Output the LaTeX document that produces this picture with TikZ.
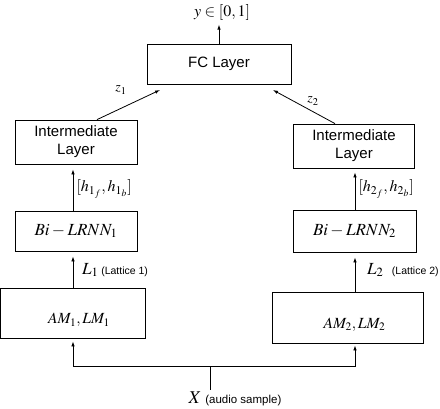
\documentclass[tikz,border=0pt]{standalone}
\usepackage{mathptmx}
\usepackage{fontspec}
\setsansfont{Liberation Sans}
\usetikzlibrary{arrows.meta}
\tikzset{
  box/.style={draw, line width=0.8pt, rectangle, inner sep=0pt, align=center},
  lbl/.style={font=\sffamily\fontsize{15}{18}\selectfont},
  mth/.style={font=\fontsize{17}{20}\selectfont},
  amt/.style={font=\fontsize{15.5}{18}\selectfont},
  arr/.style={line width=0.8pt, -{Latex[length=5pt,width=3.5pt]}},
  ln/.style={line width=0.8pt},
}
\newcommand{\smalllbl}[1]{{\sffamily\fontsize{10.5}{12}\selectfont #1}}
\begin{document}
\begin{tikzpicture}[x=1pt,y=-1pt]
\useasboundingbox (0,0) rectangle (440,408);
% boxes
\node[box,lbl,minimum width=144,minimum height=40] (fc) at (219,64) {FC Layer};
\node[box,lbl,minimum width=122,minimum height=44] (int1) at (76,142) {Intermediate\\Layer};
\node[box,lbl,minimum width=121,minimum height=44] (int2) at (354,146) {Intermediate\\Layer};
\node[box,mth,minimum width=122,minimum height=40] (bi1) at (76,231) {$Bi-LRNN_1$};
\node[box,mth,minimum width=123,minimum height=42] (bi2) at (354.5,231) {$Bi-LRNN_2$};
\node[box,minimum width=145,minimum height=50] (am1) at (73,313) {};
\node[box,minimum width=151,minimum height=51] (am2) at (347.5,317.5) {};
\node[amt] (am1t) at ([xshift=6pt,yshift=-7pt]am1.center) {$AM_1, LM_1$};
\node[amt] (am2t) at ([xshift=7pt,yshift=-7pt]am2.center) {$AM_2, LM_2$};
% output
\node[font=\fontsize{16}{18}\selectfont] (yout) at (222,12) {$y\in[0,1]$};
\draw[arr] (fc.north) -- ([yshift=-1pt]fc.north |- yout.south);
% z arrows
\coordinate (fcin1) at (160,90);
\coordinate (fcin2) at (273,90);
\draw[arr] ([xshift=21pt]int1.north) -- (fcin1);
\draw[arr] ([xshift=-19pt]int2.north) -- (fcin2);
\node[font=\fontsize{14}{16}\selectfont] (z1) at (121,90) {$z_1$};
\node[font=\fontsize{14}{16}\selectfont] (z2) at (313,101) {$z_2$};
% h arrows
\draw[arr] ([xshift=-3pt]bi1.north) -- ([xshift=-3pt,yshift=-5pt]int1.south);
\draw[arr] ([xshift=0.5pt]bi2.north) -- ([xshift=1pt,yshift=-4pt]int2.south);
\node[anchor=west,font=\fontsize{16}{18}\selectfont] (h1) at (73,189) {$[h_{1_f},h_{1_b}]$};
\node[anchor=west,font=\fontsize{16}{18}\selectfont] (h2) at (355,189) {$[h_{2_f},h_{2_b}]$};
% L arrows
\draw[arr] (am1.north) -- ([yshift=-5pt]am1.north |- bi1.south);
\draw[arr] ([xshift=7.5pt]am2.north) -- ([xshift=0.5pt,yshift=-5pt]bi2.south);
\node[anchor=west,inner sep=1pt] (l1) at (81,270) {\fontsize{17}{20}\selectfont$L_1$\,\smalllbl{(Lattice 1)}};
\node[anchor=west,inner sep=1pt] (l2) at (366,270) {\fontsize{17}{20}\selectfont$L_2$\enspace\smalllbl{(Lattice 2)}};
% input
\node[anchor=north,inner sep=1pt] (xlab) at (235,391) {\fontsize{18}{20}\selectfont$X$\hspace{4pt}{\sffamily\fontsize{11.5}{13}\selectfont(audio sample)}};
\coordinate (split) at (210,366);
\draw[ln] (split) -- ([yshift=1pt]split |- xlab.north);
\draw[arr] (split) -| ([yshift=-3pt]am1.south);
\draw[arr] (split) -| ([xshift=7.5pt,yshift=-2pt]am2.south);
\end{tikzpicture}
\end{document}
